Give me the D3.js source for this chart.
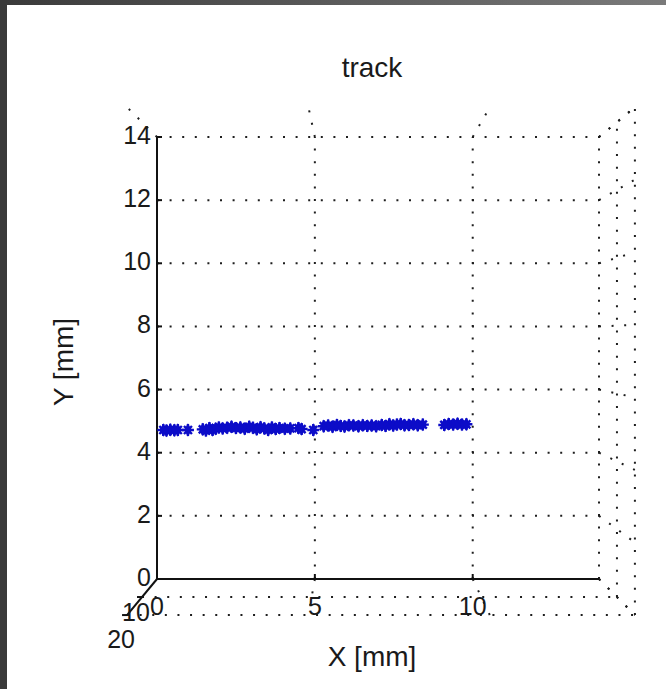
<!DOCTYPE html>
<html>
<head>
<meta charset="utf-8">
<script src="https://cdn.jsdelivr.net/npm/d3@7"></script>
<style>
html, body { margin: 0; padding: 0; background: #fff; }
svg { display: block; font-family: Arial, "Liberation Sans", sans-serif; }
</style>
</head>
<body>
<div id="chart"></div>
<script>
// track positions (mm)
const trackX = [0.20, 0.30, 0.42, 0.55, 0.66, 0.98, 1.45, 1.55, 1.66, 1.76, 1.86, 1.96, 2.08, 2.22, 2.36, 2.50,
    2.64, 2.78, 2.92, 3.04, 3.16, 3.28, 3.40, 3.52, 3.64, 3.76, 3.88, 4.05, 4.22, 4.48, 4.58, 4.95,
    5.28, 5.42, 5.56, 5.70, 5.82, 5.94, 6.08, 6.22, 6.38, 6.52, 6.66, 6.80, 6.94,
    7.12, 7.24, 7.36, 7.48, 7.60, 7.72, 7.84, 7.98, 8.12, 8.26, 8.42,
    9.10, 9.24, 9.38, 9.52, 9.66, 9.80];
const trackY = [4.72, 4.70, 4.73, 4.71, 4.72, 4.72, 4.74, 4.70, 4.78, 4.72, 4.76, 4.80, 4.77, 4.79, 4.82, 4.78,
    4.80, 4.76, 4.82, 4.79, 4.74, 4.81, 4.77, 4.72, 4.80, 4.75, 4.78, 4.76, 4.77, 4.78, 4.75, 4.72,
    4.84, 4.86, 4.82, 4.88, 4.85, 4.83, 4.87, 4.86, 4.84, 4.87, 4.85, 4.86, 4.84,
    4.88, 4.85, 4.90, 4.86, 4.89, 4.91, 4.87, 4.88, 4.90, 4.87, 4.89,
    4.88, 4.91, 4.89, 4.92, 4.89, 4.90];

const xTicks = [0, 5, 10];
const yTicks = [0, 2, 4, 6, 8, 10, 12, 14];
const zTicks = [0, 10, 20];
const xMax = 14, yMax = 14, zMax = 20;

const W = 666, H = 689;
const svg = d3.select("#chart").append("svg")
    .attr("width", W)
    .attr("height", H);

// dark frame on top and left
const grad = svg.append("defs").append("linearGradient")
    .attr("id", "topbar").attr("x1", 0).attr("x2", 1).attr("y1", 0).attr("y2", 0);
grad.append("stop").attr("offset", 0).attr("stop-color", "#3a3a3a");
grad.append("stop").attr("offset", 1).attr("stop-color", "#7a7a7a");
svg.append("rect").attr("x", 0).attr("y", 0).attr("width", W).attr("height", 5).attr("fill", "url(#topbar)");
svg.append("rect").attr("x", 0).attr("y", 0).attr("width", 7).attr("height", H).attr("fill", "#3a3a3a");

const x = d3.scaleLinear().domain([0, xMax]).range([157, 599]);
const y = d3.scaleLinear().domain([0, yMax]).range([579, 137]);

// simple perspective: planes nearer the camera (larger z) spread out from a centre point
const cx = 358, cy = 337, k = 0.00745;
function proj(px, py, pz) {
    const s = 1 + k * pz;
    return [cx + (x(px) - cx) * s, cy + (y(py) - cy) * s];
}

// grid segments in data space
const grid = [];
yTicks.filter(d => d > 0).forEach(v => grid.push([[0, v, 0], [xMax, v, 0]]));
xTicks.filter(d => d > 0).concat([xMax]).forEach(v => grid.push([[v, 0, 0], [v, yMax, 0]]));
zTicks.filter(d => d > 0).forEach(v => {
    grid.push([[xMax, 0, v], [xMax, yMax, v]]);   // right wall
    grid.push([[0, 0, v], [xMax, 0, v]]);         // floor
});
yTicks.forEach(v => grid.push([[xMax, v, 0], [xMax, v, zMax]]));
xTicks.filter(d => d > 0).concat([xMax]).forEach(v => grid.push([[v, 0, 0], [v, 0, zMax]]));
xTicks.concat([xMax]).forEach(v => grid.push([[v, yMax, 0], [v, yMax, zMax]]));

svg.append("g").selectAll("line")
    .data(grid)
    .enter().append("line")
    .attr("x1", d => proj(...d[0])[0])
    .attr("y1", d => proj(...d[0])[1])
    .attr("x2", d => proj(...d[1])[0])
    .attr("y2", d => proj(...d[1])[1])
    .attr("stroke", "#1e1e1e")
    .attr("stroke-width", 2)
    .attr("stroke-dasharray", "2 10.6");

// axis lines
const axisG = svg.append("g").attr("stroke", "#111").attr("stroke-width", 2).attr("fill", "none");
const o = proj(0, 0, 0);
axisG.append("line").attr("x1", o[0]).attr("y1", o[1]).attr("x2", proj(0, yMax, 0)[0]).attr("y2", proj(0, yMax, 0)[1]);
axisG.append("line").attr("x1", o[0]).attr("y1", o[1]).attr("x2", proj(xMax, 0, 0)[0]).attr("y2", proj(xMax, 0, 0)[1]);
axisG.append("line").attr("x1", o[0]).attr("y1", o[1]).attr("x2", proj(0, 0, zMax)[0]).attr("y2", proj(0, 0, zMax)[1]);

// tick marks
axisG.selectAll(".yt").data(yTicks).enter().append("line")
    .attr("x1", x(0)).attr("x2", x(0) + 5).attr("y1", d => y(d)).attr("y2", d => y(d));
axisG.selectAll(".xt").data(xTicks).enter().append("line")
    .attr("x1", d => x(d)).attr("x2", d => x(d)).attr("y1", y(0)).attr("y2", y(0) - 5);
axisG.selectAll(".zt").data(zTicks.filter(d => d > 0)).enter().append("line")
    .attr("x1", d => proj(0, 0, d)[0]).attr("x2", d => proj(0, 0, d)[0] - 5)
    .attr("y1", d => proj(0, 0, d)[1]).attr("y2", d => proj(0, 0, d)[1]);

// tick labels
const tickFont = 25;
svg.append("g").selectAll("text").data(yTicks).enter().append("text")
    .attr("x", x(0) - 6).attr("y", d => y(d) + 7)
    .attr("text-anchor", "end").attr("font-size", tickFont).attr("fill", "#1a1a1a")
    .text(d => d);
svg.append("g").selectAll("text").data(xTicks).enter().append("text")
    .attr("x", d => x(d)).attr("y", y(0) + 36)
    .attr("text-anchor", "middle").attr("font-size", tickFont).attr("fill", "#1a1a1a")
    .text(d => d);
const zLabelDy = {10: 24, 20: 33};
svg.append("g").selectAll("text").data(zTicks.filter(d => d > 0)).enter().append("text")
    .attr("x", d => proj(0, 0, d)[0] - 6).attr("y", d => proj(0, 0, d)[1] + zLabelDy[d])
    .attr("text-anchor", "middle").attr("font-size", tickFont).attr("fill", "#1a1a1a")
    .text(d => d);

// track markers
const pts = trackX.map((v, i) => ({x: v, y: trackY[i]}));
const mk = svg.append("g");
mk.selectAll("path.d").data(pts).enter().append("path")
    .attr("transform", d => `translate(${x(d.x)},${y(d.y)})`)
    .attr("d", d3.symbol(d3.symbolDiamond, 52))
    .attr("fill", "#0c0cc8");
mk.selectAll("path.s").data(pts).enter().append("path")
    .attr("transform", d => `translate(${x(d.x)},${y(d.y)})`)
    .attr("d", "M-6,0H6M0,-6V6M-4,-4L4,4M-4,4L4,-4")
    .attr("stroke", "#0c0cc8").attr("stroke-width", 2.4);

// titles
svg.append("text").attr("x", 372).attr("y", 77)
    .attr("text-anchor", "middle").attr("font-size", 28).attr("fill", "#1a1a1a")
    .text("track");
svg.append("text").attr("x", 372).attr("y", 666)
    .attr("text-anchor", "middle").attr("font-size", 28).attr("fill", "#1a1a1a")
    .text("X [mm]");
svg.append("text").attr("transform", "translate(73,362) rotate(-90)")
    .attr("text-anchor", "middle").attr("font-size", 28).attr("fill", "#1a1a1a")
    .text("Y [mm]");
</script>
</body>
</html>
